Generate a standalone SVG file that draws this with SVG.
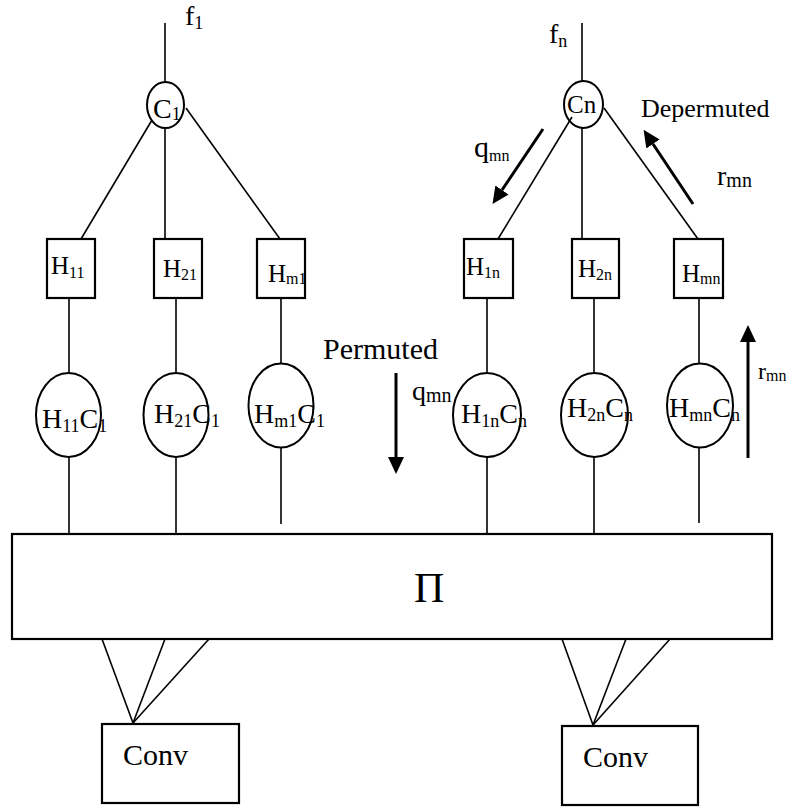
<svg xmlns="http://www.w3.org/2000/svg" width="793" height="810" viewBox="0 0 793 810" font-family="'Liberation Serif', 'DejaVu Serif', serif">
<style>
text{font-family:'Liberation Serif','DejaVu Serif',serif;fill:#000}
.ln{stroke:#000;stroke-width:1.6;fill:none}
.bx{stroke:#000;stroke-width:2.2;fill:#fff}
.el{stroke:#000;stroke-width:2;fill:none}
.ar{stroke:#000;stroke-width:3;fill:none;marker-end:url(#ah)}
.t28{font-size:28px}
.t25{font-size:25px}
.s16{font-size:16px}
.s18{font-size:18px}
</style>
<defs>
<marker id="ah" markerUnits="userSpaceOnUse" markerWidth="17" markerHeight="16" refX="0" refY="8" orient="auto" viewBox="0 0 17 16">
<path d="M0,0 L17,8 L0,16 z" fill="#000"/>
</marker>
</defs>
<rect width="793" height="810" fill="#fff"/>

<g id="connectors">
<line class="ln" x1="165" y1="23" x2="165" y2="82"/>
<line class="ln" x1="152" y1="120" x2="81" y2="239"/>
<line class="ln" x1="165" y1="128" x2="165" y2="239"/>
<line class="ln" x1="186" y1="108" x2="280" y2="239"/>
<line class="ln" x1="582" y1="23" x2="582" y2="81"/>
<line class="ln" x1="572" y1="117" x2="498" y2="239"/>
<line class="ln" x1="582" y1="128" x2="582" y2="239"/>
<line class="ln" x1="604" y1="108" x2="698" y2="239"/>
<line class="ln" x1="69" y1="298" x2="69" y2="373"/>
<line class="ln" x1="176" y1="298" x2="176" y2="373"/>
<line class="ln" x1="281" y1="298" x2="281" y2="363"/>
<line class="ln" x1="487" y1="298" x2="487" y2="373"/>
<line class="ln" x1="594" y1="298" x2="594" y2="373"/>
<line class="ln" x1="699" y1="298" x2="699" y2="363"/>
<line class="ln" x1="69" y1="457" x2="69" y2="534"/>
<line class="ln" x1="176" y1="457" x2="176" y2="534"/>
<line class="ln" x1="281" y1="448" x2="281" y2="524"/>
<line class="ln" x1="487" y1="457" x2="487" y2="534"/>
<line class="ln" x1="594" y1="457" x2="594" y2="534"/>
<line class="ln" x1="699" y1="448" x2="699" y2="523"/>
<line class="ln" x1="102" y1="639" x2="133" y2="723"/>
<line class="ln" x1="165" y1="639" x2="133" y2="723"/>
<line class="ln" x1="209" y1="639" x2="133" y2="723"/>
<line class="ln" x1="562" y1="639" x2="593" y2="725"/>
<line class="ln" x1="626" y1="639" x2="593" y2="725"/>
<line class="ln" x1="670" y1="639" x2="593" y2="725"/>
<line class="ar" x1="543" y1="129" x2="502" y2="190"/>
<line class="ar" x1="693" y1="204" x2="653" y2="144"/>
<line class="ar" x1="396" y1="373" x2="396" y2="457"/>
<line class="ar" x1="748" y1="458" x2="748" y2="342"/>
</g>

<g id="labels">
<text x="185" y="25" class="t28">f<tspan class="s18" dy="4">1</tspan></text>
<text x="549" y="43" class="t28">f<tspan class="s18" dy="4">n</tspan></text>
<text x="641" y="117" style="font-size:26px">Depermuted</text>
<text x="474" y="157" style="font-size:30px">q<tspan class="s16" dy="4">mn</tspan></text>
<text x="717" y="185" class="t28">r<tspan style="font-size:20px" dy="2">mn</tspan></text>
<text x="323" y="359" style="font-size:30px">Permuted</text>
<text x="412" y="400" class="t28">q<tspan style="font-size:20px" dy="2">mn</tspan></text>
<text x="758" y="379" style="font-size:24px">r<tspan class="s16" dy="2">mn</tspan></text>
</g>

<g id="C1">
<ellipse class="el" cx="165.5" cy="105" rx="18.5" ry="23"/>
<text x="153" y="118" class="t28">C<tspan class="s18" dy="2">1</tspan></text>
</g>
<g id="Cn">
<ellipse class="el" cx="583.5" cy="104.5" rx="19.5" ry="23.5"/>
<text x="567" y="113" class="t25">Cn</text>
</g>

<g id="H11">
<rect class="bx" x="47" y="239" width="48" height="59"/>
<text x="51" y="274" class="t25">H<tspan class="s16" dy="4">11</tspan></text>
</g>
<g id="H21">
<rect class="bx" x="154" y="239" width="48" height="59"/>
<text x="163" y="277" class="t25">H<tspan class="s16" dy="3">21</tspan></text>
</g>
<g id="Hm1">
<rect class="bx" x="257" y="239" width="48" height="59"/>
<text x="268" y="282" class="t25">H<tspan class="s16" dy="2">m1</tspan></text>
</g>
<g id="H1n">
<rect class="bx" x="464" y="239" width="49" height="59"/>
<text x="466" y="275" class="t25">H<tspan class="s16" dy="3">1n</tspan></text>
</g>
<g id="H2n">
<rect class="bx" x="572" y="239" width="47" height="59"/>
<text x="578" y="277" class="t25">H<tspan class="s16" dy="3">2n</tspan></text>
</g>
<g id="Hmn">
<rect class="bx" x="674" y="239" width="49" height="59"/>
<text x="682" y="282" class="t25">H<tspan class="s16" dy="2">mn</tspan></text>
</g>

<g id="H11C1">
<ellipse class="el" cx="68.5" cy="415" rx="32.5" ry="42"/>
<text x="42" y="428" class="t28">H<tspan class="s18" dy="4">11</tspan><tspan dy="-4">C</tspan><tspan class="s18" dy="4">1</tspan></text>
</g>
<g id="H21C1">
<ellipse class="el" cx="176" cy="415" rx="32.5" ry="42"/>
<text x="154" y="423" class="t28">H<tspan class="s18" dy="4">21</tspan><tspan dy="-4">C</tspan><tspan class="s18" dy="4">1</tspan></text>
</g>
<g id="Hm1C1">
<ellipse class="el" cx="281" cy="405.5" rx="32.5" ry="42"/>
<text x="254" y="423" class="t28">H<tspan class="s18" dy="4">m1</tspan><tspan dy="-4">C</tspan><tspan class="s18" dy="4">1</tspan></text>
</g>
<g id="H1nCn">
<ellipse class="el" cx="487" cy="415" rx="34" ry="42"/>
<text x="461" y="423" class="t28">H<tspan class="s18" dy="4">1n</tspan><tspan dy="-4">C</tspan><tspan class="s18" dy="4">n</tspan></text>
</g>
<g id="H2nCn">
<ellipse class="el" cx="594.5" cy="415" rx="33.5" ry="42"/>
<text x="567" y="417" class="t28">H<tspan class="s18" dy="4">2n</tspan><tspan dy="-4">C</tspan><tspan class="s18" dy="4">n</tspan></text>
</g>
<g id="HmnCn">
<ellipse class="el" cx="700" cy="405.5" rx="33" ry="42"/>
<text x="669" y="417" class="t28">H<tspan class="s18" dy="4">mn</tspan><tspan dy="-4">C</tspan><tspan class="s18" dy="4">n</tspan></text>
</g>

<g id="Pi">
<rect class="bx" x="12" y="534" width="760" height="105"/>
<text x="414" y="602" style="font-size:42px">Π</text>
</g>
<g id="Conv1">
<rect class="bx" x="102" y="724" width="137" height="79"/>
<text x="123" y="765" style="font-size:30px">Conv</text>
</g>
<g id="Conv2">
<rect class="bx" x="562" y="726" width="136" height="79"/>
<text x="583" y="767" style="font-size:30px">Conv</text>
</g>
</svg>
